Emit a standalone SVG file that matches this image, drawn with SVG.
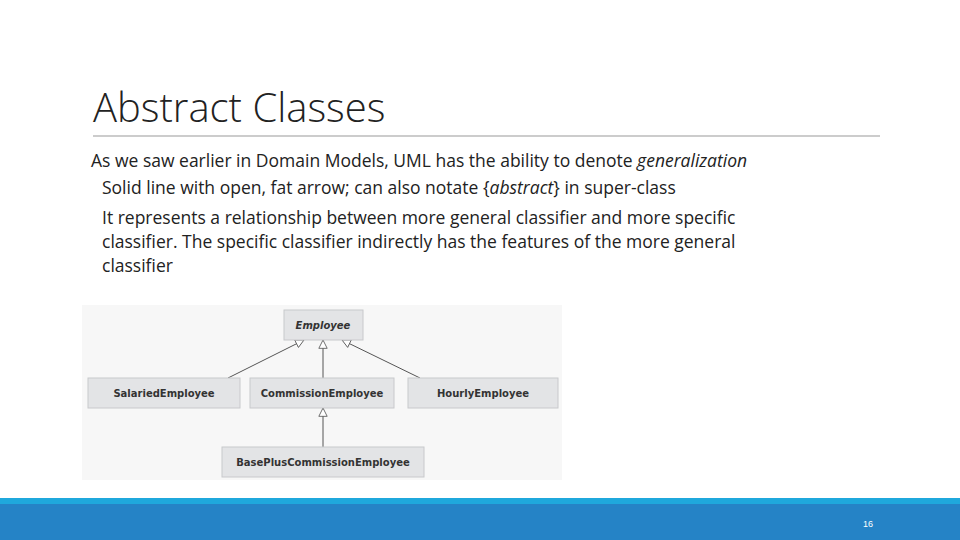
<svg xmlns="http://www.w3.org/2000/svg" width="960" height="540" viewBox="0 0 960 540">
<style>
.t{font-family:Calibri,"Liberation Sans",sans-serif;fill:#222}
.b{fill:#e3e4e6;stroke:#c8c9cc;stroke-width:1}
.l{font-family:"DejaVu Sans",sans-serif;font-size:10px;font-weight:bold;fill:#333;text-anchor:middle}
.c{stroke:#555;stroke-width:1;fill:none}
</style>
<defs><marker id="g" viewBox="0 0 12 12" refX="11" refY="6" markerWidth="10" markerHeight="10" orient="auto" markerUnits="userSpaceOnUse"><path d="M1 1 L11 6 L1 11 Z" fill="#fff" stroke="#555"/></marker></defs>
<rect width="960" height="540" fill="#fff"/>
<text x="93" y="122" class="t" font-size="40" style="font-family:'Open Sans','Liberation Sans',sans-serif;font-weight:300">Abstract Classes</text>
<line x1="93" y1="136" x2="880" y2="136" stroke="#999" stroke-width="1"/>
<g class="t" font-size="17.5" style="font-family:'Open Sans','Liberation Sans',sans-serif">
<text x="91" y="167">As we saw earlier in Domain Models, UML has the ability to denote <tspan font-style="italic">generalization</tspan></text>
<text x="102" y="194">Solid line with open, fat arrow; can also notate {<tspan font-style="italic">abstract</tspan>} in super-class</text>
<text x="102" y="224">It represents a relationship between more general classifier and more specific</text>
<text x="102" y="248">classifier. The specific classifier indirectly has the features of the more general</text>
<text x="102" y="272">classifier</text>
</g>
<rect x="82" y="305" width="480" height="175" fill="#f7f7f7"/>
<g id="connectors">
<line class="c" x1="228" y1="378" x2="304" y2="340" marker-end="url(#g)"/>
<line class="c" x1="323" y1="378" x2="323" y2="340" marker-end="url(#g)"/>
<line class="c" x1="420" y1="378" x2="342" y2="340" marker-end="url(#g)"/>
<line class="c" x1="323" y1="447" x2="323" y2="408" marker-end="url(#g)"/>
</g>
<g id="employee"><rect class="b" x="284" y="310" width="79" height="30"/><text class="l" x="323" y="329" font-style="italic">Employee</text></g>
<g id="salaried"><rect class="b" x="88" y="378" width="152" height="30"/><text class="l" x="164" y="397">SalariedEmployee</text></g>
<g id="commission"><rect class="b" x="250" y="378" width="144" height="30"/><text class="l" x="322" y="397">CommissionEmployee</text></g>
<g id="hourly"><rect class="b" x="408" y="378" width="150" height="30"/><text class="l" x="483" y="397">HourlyEmployee</text></g>
<g id="baseplus"><rect class="b" x="222" y="447" width="202" height="30"/><text class="l" x="323" y="466">BasePlusCommissionEmployee</text></g>
<rect x="0" y="498" width="960" height="6" fill="#1fa8dc"/>
<rect x="0" y="504" width="960" height="36" fill="#2583c6"/>
<text x="868" y="527" font-family="'Liberation Sans',sans-serif" font-size="9" fill="#fff" text-anchor="middle">16</text>
</svg>
